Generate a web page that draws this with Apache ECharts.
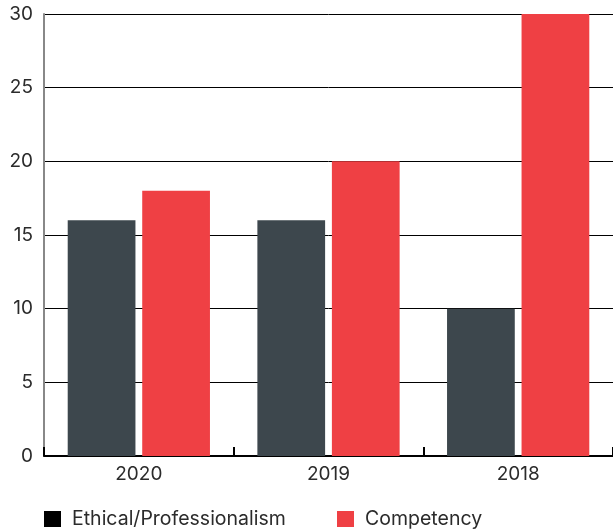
<!DOCTYPE html>
<html>
<head>
<meta charset="utf-8">
<script src="https://cdn.jsdelivr.net/npm/echarts@6/dist/echarts.min.js"></script>
<style>
  html, body { margin: 0; padding: 0; background: #fff; }
  #chart { width: 613px; height: 531px; }
</style>
</head>
<body>
<div id="chart"></div>
<script>
// Yearly counts by category
const years = ['2020', '2019', '2018'];
const ethicalValues = [16, 16, 10];
const competencyValues = [18, 20, 30];
const yTicks = [0, 5, 10, 15, 20, 25, 30];
const seriesNames = ['Ethical/Professionalism', 'Competency'];

const FONT = 'Inter, "Open Sans", sans-serif';
const TEXT = '#2b2b2b';
const DARK = '#3d474d';
const RED = '#ef4044';

const legendBase = {
  top: 509,
  padding: 0,
  itemWidth: 17,
  itemHeight: 16,
  icon: 'rect',
  textStyle: { fontFamily: FONT, fontSize: 19.5, color: TEXT, padding: [0, 0, 0, 6] }
};

const chart = echarts.init(document.getElementById('chart'));
chart.setOption({
  animation: false,
  textStyle: { fontFamily: FONT },
  grid: { left: 44, right: 0, top: 14, bottom: 75, containLabel: false },
  legend: [
    Object.assign({}, legendBase, {
      left: 44,
      data: [{ name: seriesNames[0], itemStyle: { color: '#000' } }]
    }),
    Object.assign({}, legendBase, {
      left: 337,
      data: [{ name: seriesNames[1], itemStyle: { color: RED } }]
    })
  ],
  xAxis: {
    type: 'category',
    data: years,
    axisLine: { show: true, lineStyle: { color: '#000', width: 2 } },
    axisTick: { show: true, inside: true, length: 9, lineStyle: { color: '#000', width: 2 } },
    axisLabel: { fontSize: 19, color: TEXT, margin: 9, fontFamily: FONT }
  },
  yAxis: {
    type: 'value',
    min: yTicks[0],
    max: yTicks[yTicks.length - 1],
    interval: 5,
    axisLine: { show: true, lineStyle: { color: '#888', width: 2 } },
    axisTick: { show: false },
    axisLabel: { fontSize: 19, color: TEXT, margin: 11, fontFamily: FONT },
    splitLine: { lineStyle: { color: '#000', width: 1 } }
  },
  series: [
    {
      name: seriesNames[0],
      type: 'bar',
      data: ethicalValues,
      itemStyle: { color: DARK },
      barGap: '10%',
      barCategoryGap: '25%'
    },
    {
      name: seriesNames[1],
      type: 'bar',
      data: competencyValues,
      itemStyle: { color: RED },
      barGap: '10%',
      barCategoryGap: '25%'
    }
  ]
});
</script>
</body>
</html>
